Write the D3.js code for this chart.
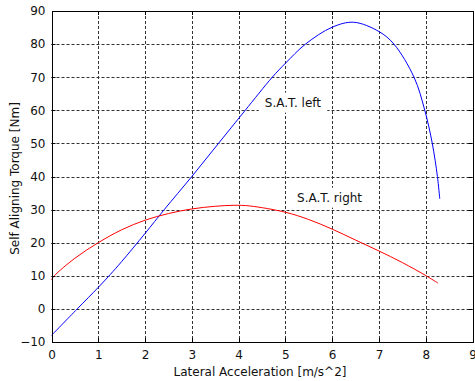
<!DOCTYPE html>
<html>
<head>
<meta charset="utf-8">
<script src="https://cdn.jsdelivr.net/npm/d3@7"></script>
<style>
  html, body { margin: 0; padding: 0; background: #fff; }
  svg { display: block; }
  text { font-family: "DejaVu Sans", sans-serif; fill: #111; }
</style>
</head>
<body>
<svg id="chart" width="475" height="381"></svg>
<script>
// ---- data ----
const xTicks = [0, 1, 2, 3, 4, 5, 6, 7, 8, 9];
const yTicks = [-10, 0, 10, 20, 30, 40, 50, 60, 70, 80, 90];

const leftX = [0, 0.55, 1.0, 1.25, 1.5, 2.0, 2.41, 3.0, 3.57, 4.13, 4.72, 5.0, 5.43, 6.0, 6.46, 7.0, 7.32, 7.75, 7.98, 8.14, 8.25, 8.30];
const leftY = [-8, 0, 6.5, 10.3, 14.3, 22.8, 30, 40, 50, 59.8, 70, 74.2, 80, 85.1, 86.6, 83.8, 80, 70, 60, 50, 40, 33.3];

const rightX = [0, 0.06, 0.5, 1.0, 1.5, 2.0, 2.5, 3.0, 3.5, 3.9, 4.24, 5.0, 5.5, 6.0, 6.5, 7.0, 7.5, 8.01, 8.26];
const rightY = [8.8, 10, 15.3, 20, 23.9, 26.8, 28.8, 30.2, 31.0, 31.3, 31.1, 29.2, 27.0, 24.1, 20.8, 17.5, 14.0, 10, 7.8];

const labelText = ["S.A.T. left", "S.A.T. right"];
const labelX = [4.56, 5.25];
const labelY = [61.1, 32.4];

const xTitle = "Lateral Acceleration [m/s^2]";
const yTitle = "Self Aligning Torque [Nm]";

// ---- layout ----
const svg = d3.select("#chart");
const x = d3.scaleLinear().domain([0, 9]).range([51.5, 472.5]);
const y = d3.scaleLinear().domain([-10, 90]).range([342, 11]);
const x0 = x(0), x1 = x(9), y0 = y(-10), y1 = y(90);

// grid
const grid = svg.append("g");
grid.selectAll("line.vg").data(xTicks.slice(1, -1)).enter().append("line")
  .attr("x1", d => Math.round(x(d)) + 0.5).attr("x2", d => Math.round(x(d)) + 0.5)
  .attr("y1", y1).attr("y2", y0)
  .attr("stroke", "#333").attr("stroke-width", 1).attr("stroke-dasharray", "3,2");
grid.selectAll("line.hg").data(yTicks.slice(1, -1)).enter().append("line")
  .attr("y1", d => Math.round(y(d)) + 0.5).attr("y2", d => Math.round(y(d)) + 0.5)
  .attr("x1", x0).attr("x2", x1)
  .attr("stroke", "#333").attr("stroke-width", 1).attr("stroke-dasharray", "3,2");

// text label backgrounds (drawn under curves), then labels
const labelLayer = svg.append("g");

// curves
const line = d3.line().x(d => x(d[0])).y(d => y(d[1])).curve(d3.curveCatmullRom.alpha(0.5));
svg.append("path").datum(leftX.map((v, i) => [v, leftY[i]]))
  .attr("d", line).attr("fill", "none").attr("stroke", "#0000ff").attr("stroke-width", 1);
svg.append("path").datum(rightX.map((v, i) => [v, rightY[i]]))
  .attr("d", line).attr("fill", "none").attr("stroke", "#ff0000").attr("stroke-width", 1);

labelText.forEach((t, i) => {
  const g = labelLayer.append("g");
  const rect = g.append("rect").attr("fill", "#fff");
  const tx = g.append("text").attr("x", x(labelX[i])).attr("y", y(labelY[i]))
    .attr("font-size", 12).text(t);
  const bb = tx.node().getBBox();
  rect.attr("x", bb.x - 6).attr("y", bb.y - 3).attr("width", bb.width + 12).attr("height", bb.height + 6);
});

// axes box
const axes = svg.append("g");
const bottomAxis = d3.axisBottom(x).tickValues(xTicks).tickSize(0).tickPadding(8).tickFormat(d3.format("d"));
const leftAxis = d3.axisLeft(y).tickValues(yTicks).tickSize(0).tickPadding(6).tickFormat(d3.format("d"));
const gx = axes.append("g").attr("transform", `translate(0,${y0})`).call(bottomAxis);
const gy = axes.append("g").attr("transform", `translate(${x0},0)`).call(leftAxis);
[gx, gy].forEach(g => {
  g.select(".domain").remove();
  g.selectAll("text").attr("font-size", 12).attr("font-family", "DejaVu Sans, sans-serif").attr("fill", "#222");
});

// inner ticks on all four sides
const tl = 4;
axes.selectAll("line.bt").data(xTicks.slice(1, -1)).enter().append("line")
  .attr("x1", d => Math.round(x(d)) + 0.5).attr("x2", d => Math.round(x(d)) + 0.5)
  .attr("y1", y0).attr("y2", y0 - tl).attr("stroke", "#000");
axes.selectAll("line.tt").data(xTicks.slice(1, -1)).enter().append("line")
  .attr("x1", d => Math.round(x(d)) + 0.5).attr("x2", d => Math.round(x(d)) + 0.5)
  .attr("y1", y1).attr("y2", y1 + tl).attr("stroke", "#000");
axes.selectAll("line.lt").data(yTicks.slice(1, -1)).enter().append("line")
  .attr("y1", d => Math.round(y(d)) + 0.5).attr("y2", d => Math.round(y(d)) + 0.5)
  .attr("x1", x0).attr("x2", x0 + tl).attr("stroke", "#000");
axes.selectAll("line.rt").data(yTicks.slice(1, -1)).enter().append("line")
  .attr("y1", d => Math.round(y(d)) + 0.5).attr("y2", d => Math.round(y(d)) + 0.5)
  .attr("x1", x1).attr("x2", x1 - tl).attr("stroke", "#000");

axes.append("rect").attr("x", Math.round(x0) + 0.5).attr("y", Math.round(y1) + 0.5)
  .attr("width", Math.round(x1) - Math.round(x0)).attr("height", Math.round(y0) - Math.round(y1))
  .attr("fill", "none").attr("stroke", "#000").attr("stroke-width", 1);

// titles
svg.append("text").attr("x", (x0 + x1) / 2 - 2).attr("y", 376)
  .attr("text-anchor", "middle").attr("font-size", 12).text(xTitle);
svg.append("text").attr("transform", `translate(19,${(y0 + y1) / 2 + 2}) rotate(-90)`)
  .attr("text-anchor", "middle").attr("font-size", 12).text(yTitle);
</script>
</body>
</html>
